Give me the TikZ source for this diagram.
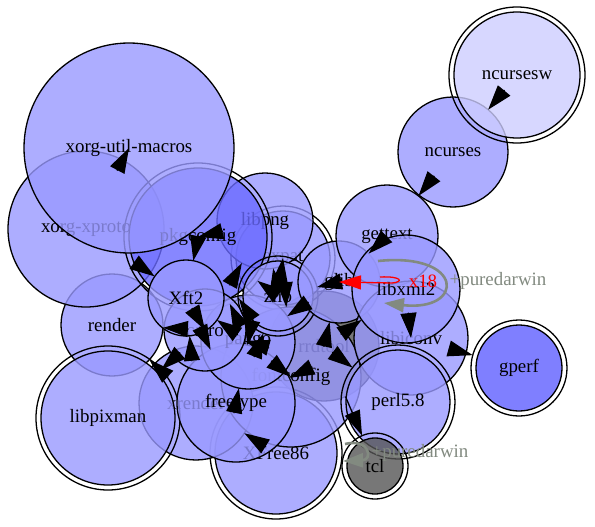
\documentclass[tikz,border=0pt]{standalone}
\usepackage{fontspec}
\setmainfont{Liberation Serif}
\usetikzlibrary{calc,arrows.meta}
\definecolor{nb}{HTML}{9999FF}
\definecolor{pkgc}{HTML}{6A6AFF}
\definecolor{ncw}{HTML}{CDCDFF}
\definecolor{gp}{HTML}{6060FF}
\definecolor{gr}{HTML}{555555}
\definecolor{loopc}{RGB}{130,138,128}
\newcommand\lbl{\fontsize{18.9}{20}\selectfont}
\tikzset{
  nd/.style={circle, draw=black, line width=1.3pt, fill=nb, fill opacity=0.8,
    text opacity=1, draw opacity=1, inner sep=0pt, outer sep=0pt, font=\lbl,
    minimum size=#1},
  dbl/.style={outer sep=5pt},
  ringst/.style={draw=black, line width=1.3pt},
  arr/.style={-{Triangle[length=25pt,width=16pt]}, line width=1.3pt, black},
  redarr/.style={-{Triangle[length=22pt,width=14pt]}, line width=1.3pt, red},
  loopst/.style={-{Triangle[length=20pt,width=14pt]}, line width=2.6pt, loopc},
  glabel/.style={font=\lbl, text=loopc},
}
\newcommand\ring[2]{\draw[ringst] (#1.center) circle (#2pt);}
\newcommand\stub[3]{\pgfmathsetmacro\stubd{#3+25.5}\draw[arr] ($(#2.center)!\stubd pt!(#1.center)$) -- ($(#2.center)!#3pt!(#1.center)$);}
\newcommand\cstub[2]{\draw[arr] ($(#2.center)!25.5pt!(#1.center)$) -- (#2.center);}
\begin{document}
\begin{tikzpicture}[x=1pt,y=-1pt]
\fill[white] (0,0) rectangle (595,527);
\useasboundingbox (0,0) rectangle (595,527);
% nodes in drawing order
\node[nd=110pt, fill=gr] (rrdtool) at (324,346) {rrdtool};
\node[nd=102pt] (render) at (112,325) {render};
\node[nd=156pt] (xproto) at (86,229) {xorg-xproto};
\node[nd=110pt] (ncurses) at (453,152) {ncurses};
\node[nd=126pt, fill=ncw, dbl] (ncursesw) at (517,75) {ncursesw}; \ring{ncursesw}{68}
\node[nd=94pt, dbl] (expat) at (283,258) {expat}; \ring{expat}{52}
\node[nd=96pt] (libpng) at (265,221) {libpng};
\node[nd=138pt, fill=pkgc, dbl] (pkgconfig) at (198,237) {pkgconfig}; \ring{pkgconfig}{74}
\node[nd=210pt] (macros) at (129,148) {xorg-util-macros};
\node[nd=122pt, dbl] (XFree86) at (276,453) {XFree86}; \ring{XFree86}{66}
\node[nd=114pt] (xrender) at (196,403) {xrender};
\node[nd=134pt, dbl] (libpixman) at (108,418) {libpixman}; \ring{libpixman}{72}
\node[nd=140pt] (fontconfig) at (291,377) {fontconfig};
\node[nd=118pt] (freetype) at (236,403) {freetype};
\node[nd=94pt] (pango) at (248,342) {pango};
\node[nd=82pt] (cairo) at (205,330) {cairo};
\node[nd=76pt] (Xft2) at (186,298) {Xft2};
\node[nd=70pt, dbl] (zlib) at (278,296) {zlib}; \ring{zlib}{40}
\node[nd=82pt] (glib) at (339,282) {glib};
\node[nd=102pt] (gettext) at (387,236) {gettext};
\node[nd=114pt] (libiconv) at (411,338) {libiconv};
\node[nd=108pt] (libxml2) at (406,289) {libxml2};
\node[nd=104pt, dbl] (perl) at (398,402) {perl5.8}; \ring{perl}{57}
\node[nd=56pt, fill=gr, dbl] (tcl) at (375,466) {tcl}; \ring{tcl}{33}
\node[nd=86pt, fill=gp, dbl] (gperf) at (519,368) {gperf}; \ring{gperf}{48}
% edges
\cstub{xproto}{macros}
\cstub{libpng}{pkgconfig}
\stub{pkgconfig}{Xft2}{38}
\stub{xproto}{Xft2}{38}
\stub{cairo}{render}{51}
\stub{xrender}{render}{51}
\stub{cairo}{libpixman}{72}
\stub{ncursesw}{ncurses}{55}
\stub{ncurses}{gettext}{51}
\draw[arr] (libiconv) -- (gperf);
\draw[arr] (rrdtool) -- (tcl);
\stub{gettext}{glib}{41}
\cstub{pango}{fontconfig}
\stub{freetype}{zlib}{40}
\stub{zlib}{libpng}{48}
\cstub{zlib}{expat}
\cstub{Xft2}{cairo}
\stub{pango}{cairo}{41}
\stub{freetype}{pango}{47}
\stub{glib}{pango}{47}
\stub{glib}{zlib}{40}
\cstub{libxml2}{libiconv}
\stub{rrdtool}{perl}{57}
\stub{rrdtool}{libxml2}{54}
\stub{rrdtool}{glib}{41}
\stub{xrender}{Xft2}{38}
\stub{Xft2}{freetype}{59}
\stub{pango}{Xft2}{38}
\stub{cairo}{libpng}{48}
\stub{expat}{fontconfig}{70}
\stub{XFree86}{xrender}{57}
\stub{pango}{freetype}{59}
\stub{fontconfig}{freetype}{59}
\stub{pango}{pkgconfig}{74}
\stub{fontconfig}{pkgconfig}{74}
\stub{zlib}{pkgconfig}{74}
% red multi-edge libxml2 -> glib
\draw[redarr] ($(libxml2)+(-26,-12)$) .. controls ($(libxml2)+(-4,-13)$) and ($(libxml2)+(-2,-7)$) .. ($(libxml2)+(-14,-6)$) -- (glib.center);
\node[font=\lbl, text=red] (x18) at ($(libxml2)+(17,-8)$) {x18};
% self loops
\draw[loopst] ($(libxml2)+(-28,-28)$) .. controls ($(libxml2)+(59,-37)$) and ($(libxml2)+(59,23)$) .. ($(libxml2)+(-22,14)$);
\node[glabel] (pd1) at ($(libxml2)+(92,-8)$) {+puredarwin};
\draw[loopst] ($(tcl)+(-30,-22)$) .. controls ($(tcl)+(-5,-28)$) and ($(tcl)+(-2,-6)$) .. ($(tcl)+(-32,-5)$);
\node[glabel] (pd2) at ($(tcl)+(45,-13)$) {+puredarwin};
\end{tikzpicture}
\end{document}
